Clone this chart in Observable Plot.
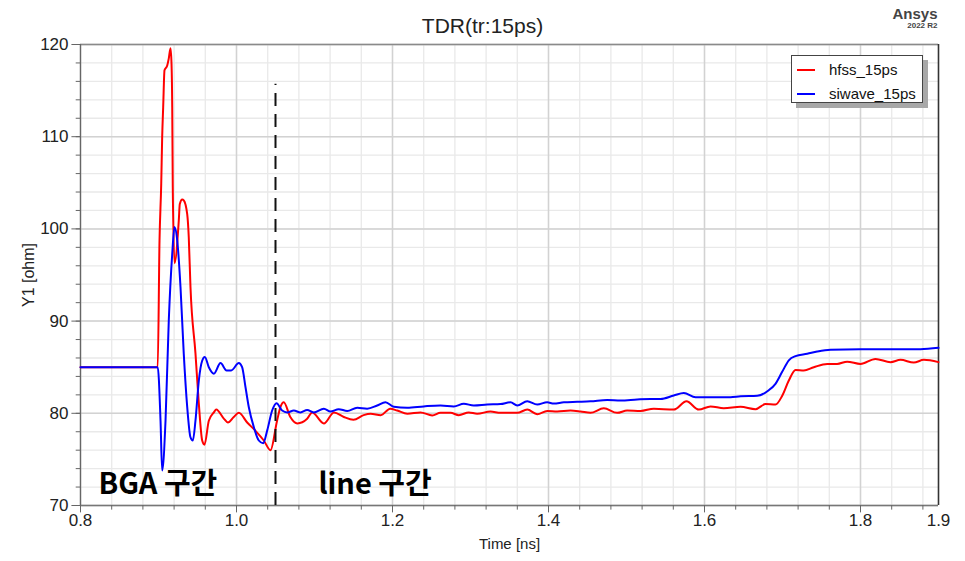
<!DOCTYPE html>
<html>
<head>
<meta charset="utf-8">
<script src="https://cdn.jsdelivr.net/npm/d3@7"></script>
<script src="https://cdn.jsdelivr.net/npm/@observablehq/plot@0.6"></script>
<style>
  html, body { margin: 0; padding: 0; background: #fff; }
  #wrap { position: relative; width: 965px; height: 561px; overflow: hidden; }
  #legend { position: absolute; left: 791px; top: 55px; width: 130px; height: 46px;
    border: 1px solid #444; background: #fff; box-shadow: 5px 5px 0 #a8a8a8;
    font-family: "Liberation Sans", Arial, sans-serif; font-size: 15px; color: #111; }
  #legend .row { position: absolute; left: 0; height: 20px; line-height: 20px; }
  #legend .sw { position: absolute; left: 5px; top: 9px; width: 18px; height: 2px; }
  #legend .lb { position: absolute; left: 37px; top: 0; white-space: nowrap; }
</style>
</head>
<body>
<div id="wrap"></div>
<script>
const seriesNames = ["hfss_15ps", "siwave_15ps"];
const seriesColors = ["#ff0000", "#0000ff"];

const hfssTime = [0.8,0.899,0.9013,0.9035,0.9047,0.906,0.9077,0.9111,0.9132,0.9154,0.9167,0.9176,0.9183,0.9205,0.926,0.9273,0.9304,0.9324,0.9368,0.9388,0.941,0.9474,0.9517,0.956,0.959,0.9645,0.971,0.974,0.984,0.989,0.9965,1.003,1.0137,1.0244,1.035,1.0436,1.052,1.0564,1.0606,1.069,1.078,1.0906,1.097,1.112,1.125,1.1376,1.150,1.163,1.172,1.185,1.197,1.206,1.219,1.236,1.251,1.2615,1.2744,1.285,1.2978,1.3085,1.3256,1.3385,1.3599,1.3727,1.3855,1.3983,1.4112,1.4282,1.441,1.4538,1.4709,1.488,1.5008,1.518,1.535,1.5606,1.5769,1.5927,1.6077,1.6247,1.6462,1.6654,1.6782,1.691,1.6996,1.7081,1.7167,1.7273,1.7401,1.7573,1.77,1.7829,1.8,1.8192,1.8385,1.8513,1.8683,1.8812,1.9];
const hfssOhm = [85,85,98.7,104.9,109.9,113.2,117.2,117.7,118.5,119.6,117.9,113.2,104.5,96.3,100.9,102.7,103.2,103.1,101.6,99.1,93.7,86.5,81.05,77.05,76.6,79.2,80.1,80.4,79.4,79.0,79.6,80.05,79.0,78.1,77.05,76.0,79.2,80.7,81.2,79.6,78.9,79.4,80.1,78.9,80.1,79.6,79.3,79.8,79.95,79.8,80.5,80.3,79.95,80.1,79.76,80.05,80.05,79.8,80.1,79.95,80.2,80.05,80.05,80.4,79.9,80.25,80.2,80.3,80.2,80.05,80.55,80.05,80.3,80.25,80.5,80.4,81.3,80.4,80.75,80.55,80.7,80.45,81.0,80.95,81.9,83.55,84.7,84.65,85.0,85.35,85.35,85.6,85.35,85.9,85.55,85.8,85.5,85.8,85.55];

const siwaveTime = [0.8,0.899,0.9026,0.9047,0.909,0.9132,0.9176,0.9205,0.924,0.9282,0.9324,0.9368,0.941,0.944,0.9474,0.9517,0.956,0.9594,0.9645,0.971,0.9795,0.9872,0.9932,1.003,1.0072,1.0115,1.0158,1.0222,1.0286,1.0342,1.0394,1.0457,1.0513,1.0585,1.065,1.0735,1.082,1.0906,1.099,1.112,1.1205,1.131,1.142,1.1547,1.1675,1.1804,1.191,1.2017,1.2188,1.24,1.2615,1.2786,1.2914,1.3042,1.3214,1.3385,1.3513,1.3599,1.3727,1.3855,1.3983,1.4068,1.4197,1.4368,1.4538,1.4753,1.4923,1.5137,1.5308,1.5436,1.5606,1.5735,1.5885,1.6333,1.6462,1.6676,1.6824,1.691,1.6996,1.7081,1.7167,1.7317,1.7445,1.7615,1.8,1.8769,1.9];
const siwaveOhm = [85,85,79.2,73.8,79.2,90.1,97.3,100.2,98.75,93.7,86.45,80.7,77.4,77.05,79.2,83.55,85.7,86.1,85.0,84.3,85.45,84.65,84.65,85.45,85.0,82.85,80.65,78.5,77.05,76.75,78.15,80.3,81.1,80.3,80.1,80.3,80.1,80.35,80.1,80.5,80.2,80.45,80.25,80.6,80.5,80.85,81.2,80.7,80.6,80.75,80.85,80.75,81.03,80.85,80.95,81.0,81.2,80.85,81.3,80.95,81.2,81.05,81.2,81.25,81.3,81.45,81.4,81.5,81.55,81.55,81.93,82.2,81.75,81.75,81.85,81.9,82.5,83.2,84.5,85.75,86.2,86.45,86.7,86.9,86.95,86.95,87.1];

const xTickLabels = [0.8, 1.0, 1.2, 1.4, 1.6, 1.8, 1.9];
const yTickLabels = [70, 80, 90, 100, 110, 120];
const xMinorGrid = d3.range(0, 28).map(i => +(0.8 + i * 0.04).toFixed(2));
const yMinorGrid = d3.range(70, 121, 2);
const xMajorGrid = [0.8, 1.0, 1.2, 1.4, 1.6, 1.8];
const yMajorGrid = [70, 80, 90, 100, 110, 120];

const markerTime = 1.05;
const markerTop = 115.7;
const regionLabels = [{t: 0.823, v: 71.3, text: "BGA 구간"}, {t: 1.105, v: 71.3, text: "line 구간"}];

const hfss = hfssTime.map((t, i) => ({t, v: hfssOhm[i]}));
const siwave = siwaveTime.map((t, i) => ({t, v: siwaveOhm[i]}));

const font = "'Liberation Sans', Arial, sans-serif";

const chart = Plot.plot({
  width: 965,
  height: 561,
  marginTop: 44,
  marginLeft: 80,
  marginRight: 27,
  marginBottom: 56,
  style: {fontFamily: font, background: "#fff", overflow: "visible"},
  x: {domain: [0.8, 1.9], axis: null},
  y: {domain: [70, 120], axis: null},
  marks: [
    Plot.ruleX(xMinorGrid, {stroke: "#e9e9e9", strokeWidth: 1.3}),
    Plot.ruleY(yMinorGrid, {stroke: "#e9e9e9", strokeWidth: 1.3}),
    Plot.ruleX(xMajorGrid, {stroke: "#d2d2d2", strokeWidth: 1.5}),
    Plot.ruleY(yMajorGrid, {stroke: "#d2d2d2", strokeWidth: 1.5}),
    // frame
    Plot.ruleY([120], {stroke: "#8a8a8a", strokeWidth: 1.5}),
    Plot.ruleY([70], {stroke: "#777", strokeWidth: 1.3}),
    Plot.ruleX([0.8], {stroke: "#666", strokeWidth: 1.3}),
    Plot.ruleX([1.9], {stroke: "#333", strokeWidth: 1.6}),
    // ticks
    Plot.ruleX(xMinorGrid, {y1: 70, y2: 69.5, stroke: "#666"}),
    Plot.ruleX(xMajorGrid, {y1: 70, y2: 69.2, stroke: "#666"}),
    Plot.ruleY(yMinorGrid, {x1: 0.8, x2: 0.7945, stroke: "#666"}),
    Plot.ruleY(yMajorGrid, {x1: 0.8, x2: 0.789, stroke: "#666"}),
    // tick labels
    Plot.text(xTickLabels, {x: d => d, y: 70, text: d => d.toFixed(1), dy: 8, lineAnchor: "top", fontSize: 17, fill: "#222"}),
    Plot.text(yTickLabels, {x: 0.8, y: d => d, text: d => String(d), dx: -12, textAnchor: "end", fontSize: 17, fill: "#222"}),
    // data
    Plot.line(hfss, {x: "t", y: "v", stroke: seriesColors[0], strokeWidth: 2, curve: "monotone-x"}),
    Plot.line(siwave, {x: "t", y: "v", stroke: seriesColors[1], strokeWidth: 2, curve: "monotone-x"}),
    // marker line
    Plot.ruleX([markerTime], {y1: 70, y2: markerTop, stroke: "#111", strokeWidth: 2, strokeDasharray: "13,8"}),
    // region labels
    Plot.text(regionLabels, {x: "t", y: "v", text: "text", textAnchor: "start", lineAnchor: "bottom", fontSize: 29, fontWeight: "bold", fill: "#000", fontFamily: "'Noto Sans CJK KR', 'Noto Sans', sans-serif"}),
    // titles
    Plot.text(["TDR(tr:15ps)"], {frameAnchor: "top", text: d => d, dx: -27, dy: -26, fontSize: 21, fill: "#222"}),
    Plot.text(["Time [ns]"], {frameAnchor: "bottom", text: d => d, dy: 43, fontSize: 15, fill: "#222"}),
    Plot.text(["Y1 [ohm]"], {frameAnchor: "left", text: d => d, dx: -52, rotate: -90, textAnchor: "middle", fontSize: 16, fill: "#222"}),
    Plot.text(["Ansys"], {frameAnchor: "top-right", text: d => d, dx: -1, dy: -36, fontSize: 15, fontWeight: "bold", fill: "#444", textAnchor: "end"}),
    Plot.text(["2022 R2"], {frameAnchor: "top-right", text: d => d, dx: -1, dy: -22, fontSize: 8, fontWeight: "bold", fill: "#444", textAnchor: "end"})
  ]
});

const wrap = document.getElementById("wrap");
wrap.appendChild(chart);

const legend = document.createElement("div");
legend.id = "legend";
seriesNames.forEach((name, i) => {
  const row = document.createElement("div");
  row.className = "row";
  row.style.top = (4 + i * 24) + "px";
  row.style.width = "130px";
  const sw = document.createElement("div");
  sw.className = "sw";
  sw.style.background = seriesColors[i];
  const lb = document.createElement("div");
  lb.className = "lb";
  lb.textContent = name;
  row.appendChild(sw);
  row.appendChild(lb);
  legend.appendChild(row);
});
wrap.appendChild(legend);
</script>
</body>
</html>
